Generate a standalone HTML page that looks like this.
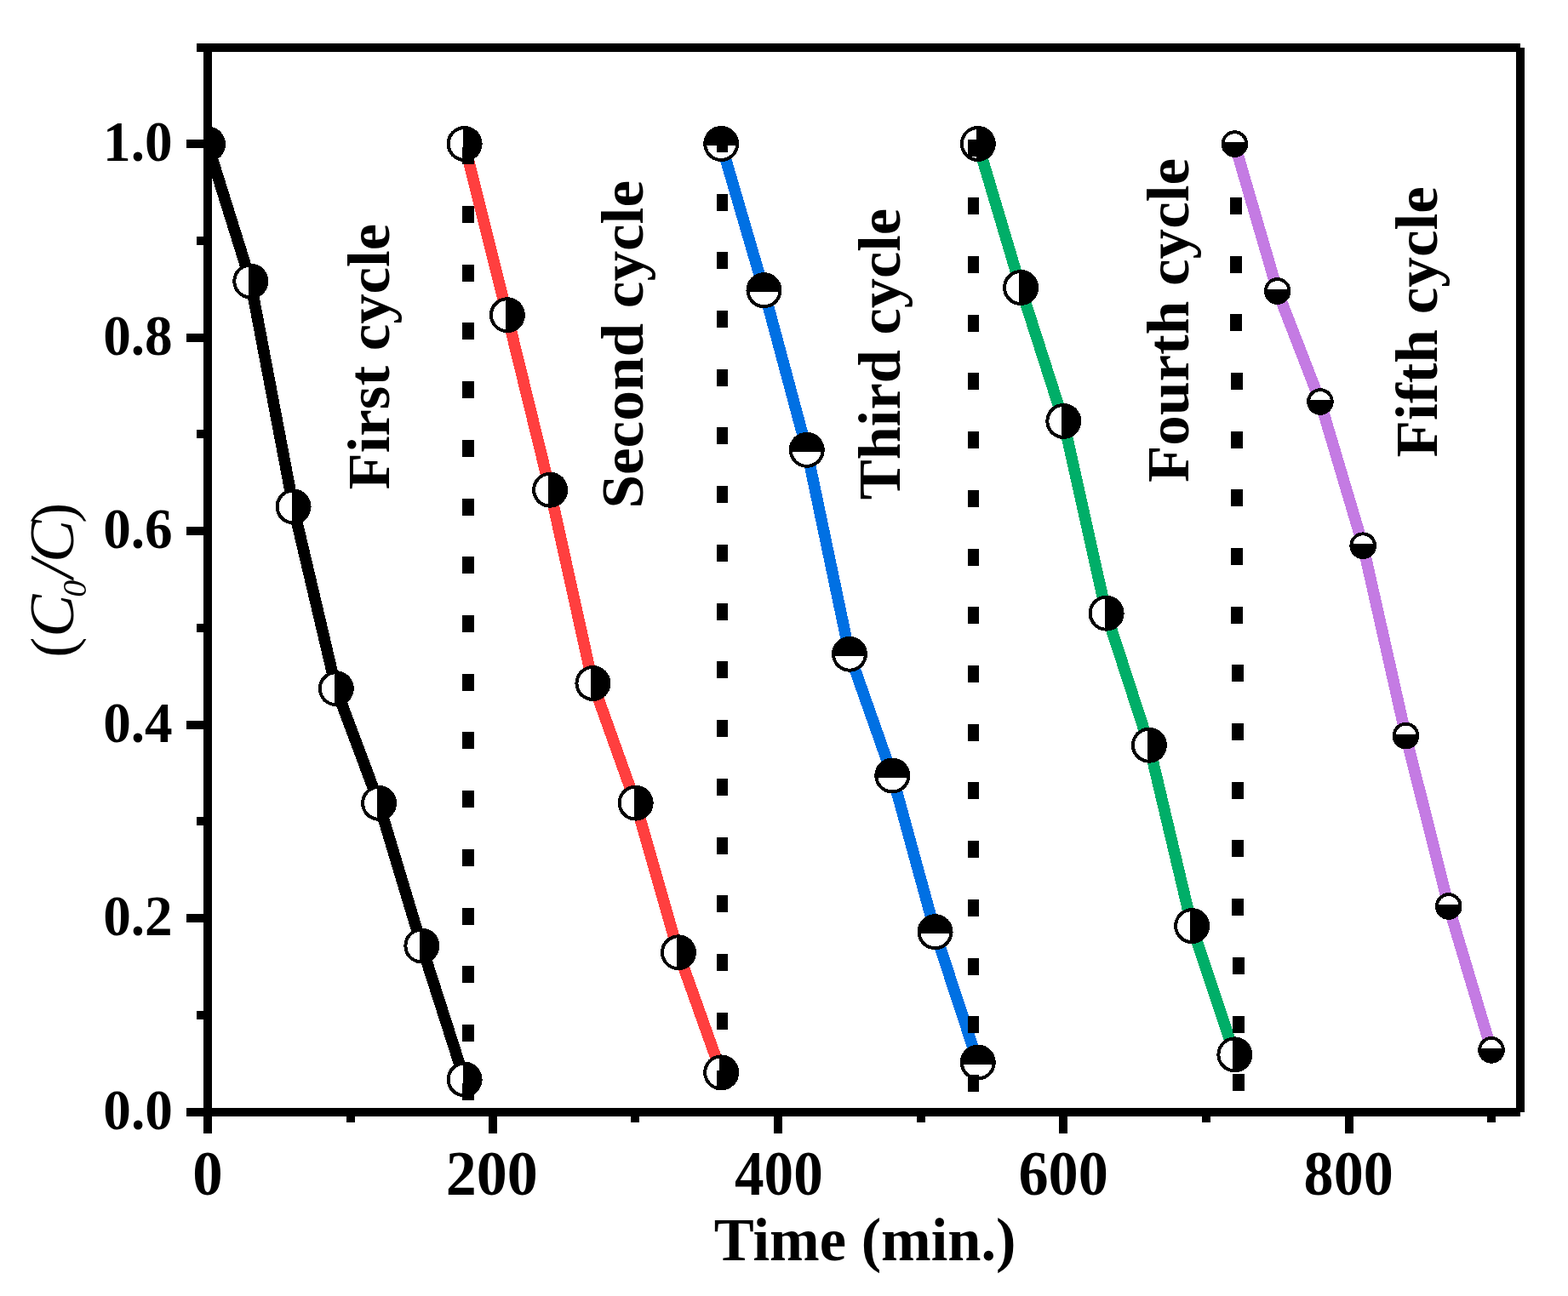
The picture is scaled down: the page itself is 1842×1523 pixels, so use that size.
<!DOCTYPE html>
<html lang="en">
<head>
<meta charset="utf-8">
<title>Recycling test: C0/C versus time over five cycles</title>
<style>
html,body{margin:0;padding:0;background:#fff;}
body{width:1842px;height:1523px;overflow:hidden;}
svg{display:block;}
text{font-family:"Liberation Serif", "DejaVu Serif", serif;fill:#000;}
.b{font-weight:bold;}
.it{font-style:italic;font-weight:normal;}
</style>
</head>
<body>
<svg width="1842" height="1523" viewBox="0 0 1842 1523">
<rect width="1842" height="1523" fill="#fff"/>
<defs><clipPath id="plot"><rect x="244" y="56" width="1542" height="1251"/></clipPath></defs>

<g clip-path="url(#plot)" shape-rendering="crispEdges">
<polyline points="244.00,169.50 294.27,330.50 344.53,595.40 394.80,809.20 445.07,943.80 495.33,1111.50 545.60,1268.50" fill="none" stroke="#000000" stroke-width="13.6" stroke-linejoin="round"/>
<circle cx="244.00" cy="169.50" r="21" fill="#000"/><path d="M242.00 152.62A17 17 0 0 0 242.00 186.38Z" fill="#fff"/>
<circle cx="294.27" cy="330.50" r="21" fill="#000"/><path d="M292.27 313.62A17 17 0 0 0 292.27 347.38Z" fill="#fff"/>
<circle cx="344.53" cy="595.40" r="21" fill="#000"/><path d="M342.53 578.52A17 17 0 0 0 342.53 612.28Z" fill="#fff"/>
<circle cx="394.80" cy="809.20" r="21" fill="#000"/><path d="M392.80 792.32A17 17 0 0 0 392.80 826.08Z" fill="#fff"/>
<circle cx="445.07" cy="943.80" r="21" fill="#000"/><path d="M443.07 926.92A17 17 0 0 0 443.07 960.68Z" fill="#fff"/>
<circle cx="495.33" cy="1111.50" r="21" fill="#000"/><path d="M493.33 1094.62A17 17 0 0 0 493.33 1128.38Z" fill="#fff"/>
<circle cx="545.60" cy="1268.50" r="21" fill="#000"/><path d="M543.60 1251.62A17 17 0 0 0 543.60 1285.38Z" fill="#fff"/>
<polyline points="545.60,169.00 595.87,370.20 646.13,575.70 696.40,803.00 746.67,943.60 796.93,1119.30 847.20,1260.40" fill="none" stroke="#ff3f3f" stroke-width="13.6" stroke-linejoin="round"/>
<circle cx="545.60" cy="169.00" r="21" fill="#000"/><path d="M543.60 152.12A17 17 0 0 0 543.60 185.88Z" fill="#fff"/>
<circle cx="595.87" cy="370.20" r="21" fill="#000"/><path d="M593.87 353.32A17 17 0 0 0 593.87 387.08Z" fill="#fff"/>
<circle cx="646.13" cy="575.70" r="21" fill="#000"/><path d="M644.13 558.82A17 17 0 0 0 644.13 592.58Z" fill="#fff"/>
<circle cx="696.40" cy="803.00" r="21" fill="#000"/><path d="M694.40 786.12A17 17 0 0 0 694.40 819.88Z" fill="#fff"/>
<circle cx="746.67" cy="943.60" r="21" fill="#000"/><path d="M744.67 926.72A17 17 0 0 0 744.67 960.48Z" fill="#fff"/>
<circle cx="796.93" cy="1119.30" r="21" fill="#000"/><path d="M794.93 1102.42A17 17 0 0 0 794.93 1136.18Z" fill="#fff"/>
<circle cx="847.20" cy="1260.40" r="21" fill="#000"/><path d="M845.20 1243.52A17 17 0 0 0 845.20 1277.28Z" fill="#fff"/>
<polyline points="847.20,169.00 897.47,341.20 947.74,528.80 998.00,768.70 1048.27,911.50 1098.54,1095.20 1148.80,1248.50" fill="none" stroke="#0070e3" stroke-width="13.6" stroke-linejoin="round"/>
<circle cx="847.20" cy="169.00" r="21" fill="#000"/><path d="M830.32 171.00A17 17 0 0 0 864.08 171.00Z" fill="#fff"/>
<circle cx="897.47" cy="341.20" r="21" fill="#000"/><path d="M880.59 343.20A17 17 0 0 0 914.35 343.20Z" fill="#fff"/>
<circle cx="947.74" cy="528.80" r="21" fill="#000"/><path d="M930.85 530.80A17 17 0 0 0 964.62 530.80Z" fill="#fff"/>
<circle cx="998.00" cy="768.70" r="21" fill="#000"/><path d="M981.12 770.70A17 17 0 0 0 1014.88 770.70Z" fill="#fff"/>
<circle cx="1048.27" cy="911.50" r="21" fill="#000"/><path d="M1031.39 913.50A17 17 0 0 0 1065.15 913.50Z" fill="#fff"/>
<circle cx="1098.54" cy="1095.20" r="21" fill="#000"/><path d="M1081.65 1097.20A17 17 0 0 0 1115.42 1097.20Z" fill="#fff"/>
<circle cx="1148.80" cy="1248.50" r="21" fill="#000"/><path d="M1131.92 1250.50A17 17 0 0 0 1165.68 1250.50Z" fill="#fff"/>
<polyline points="1148.80,169.00 1199.07,338.00 1249.34,494.90 1299.60,720.70 1349.87,875.70 1400.14,1088.10 1450.40,1239.40" fill="none" stroke="#00ae68" stroke-width="13.6" stroke-linejoin="round"/>
<circle cx="1148.80" cy="169.00" r="21" fill="#000"/><path d="M1146.80 152.12A17 17 0 0 0 1146.80 185.88Z" fill="#fff"/>
<circle cx="1199.07" cy="338.00" r="21" fill="#000"/><path d="M1197.07 321.12A17 17 0 0 0 1197.07 354.88Z" fill="#fff"/>
<circle cx="1249.34" cy="494.90" r="21" fill="#000"/><path d="M1247.34 478.02A17 17 0 0 0 1247.34 511.78Z" fill="#fff"/>
<circle cx="1299.60" cy="720.70" r="21" fill="#000"/><path d="M1297.60 703.82A17 17 0 0 0 1297.60 737.58Z" fill="#fff"/>
<circle cx="1349.87" cy="875.70" r="21" fill="#000"/><path d="M1347.87 858.82A17 17 0 0 0 1347.87 892.58Z" fill="#fff"/>
<circle cx="1400.14" cy="1088.10" r="21" fill="#000"/><path d="M1398.14 1071.22A17 17 0 0 0 1398.14 1104.98Z" fill="#fff"/>
<circle cx="1450.40" cy="1239.40" r="21" fill="#000"/><path d="M1448.40 1222.52A17 17 0 0 0 1448.40 1256.28Z" fill="#fff"/>
<polyline points="1450.40,169.10 1500.67,342.00 1550.94,472.00 1601.20,641.20 1651.47,864.60 1701.74,1065.00 1752.00,1233.90" fill="none" stroke="#c47be3" stroke-width="13.6" stroke-linejoin="round"/>
<circle cx="1450.40" cy="169.10" r="15.8" fill="#000"/><path d="M1438.57 167.10A12 12 0 0 1 1462.24 167.10Z" fill="#fff"/>
<circle cx="1500.67" cy="342.00" r="15.8" fill="#000"/><path d="M1488.84 340.00A12 12 0 0 1 1512.50 340.00Z" fill="#fff"/>
<circle cx="1550.94" cy="472.00" r="15.8" fill="#000"/><path d="M1539.10 470.00A12 12 0 0 1 1562.77 470.00Z" fill="#fff"/>
<circle cx="1601.20" cy="641.20" r="15.8" fill="#000"/><path d="M1589.37 639.20A12 12 0 0 1 1613.04 639.20Z" fill="#fff"/>
<circle cx="1651.47" cy="864.60" r="15.8" fill="#000"/><path d="M1639.64 862.60A12 12 0 0 1 1663.30 862.60Z" fill="#fff"/>
<circle cx="1701.74" cy="1065.00" r="15.8" fill="#000"/><path d="M1689.91 1063.00A12 12 0 0 1 1713.57 1063.00Z" fill="#fff"/>
<circle cx="1752.00" cy="1233.90" r="15.8" fill="#000"/><path d="M1740.17 1231.90A12 12 0 0 1 1763.84 1231.90Z" fill="#fff"/>
</g>
<g fill="#000" shape-rendering="crispEdges">
<rect x="543" y="173" width="14" height="20"/>
<rect x="543" y="242" width="14" height="20"/>
<rect x="543" y="311" width="14" height="20"/>
<rect x="543" y="379" width="14" height="20"/>
<rect x="543" y="448" width="14" height="20"/>
<rect x="543" y="517" width="14" height="20"/>
<rect x="543" y="586" width="14" height="20"/>
<rect x="543" y="654" width="14" height="20"/>
<rect x="543" y="723" width="14" height="20"/>
<rect x="543" y="792" width="14" height="20"/>
<rect x="543" y="860" width="14" height="20"/>
<rect x="543" y="929" width="14" height="20"/>
<rect x="543" y="998" width="14" height="20"/>
<rect x="543" y="1067" width="14" height="20"/>
<rect x="543" y="1135" width="14" height="20"/>
<rect x="543" y="1204" width="14" height="20"/>
<rect x="543" y="1273" width="14" height="20"/>
<rect x="842" y="159" width="13" height="20"/>
<rect x="842" y="228" width="13" height="20"/>
<rect x="842" y="296" width="13" height="20"/>
<rect x="842" y="365" width="13" height="20"/>
<rect x="842" y="434" width="13" height="20"/>
<rect x="842" y="502" width="13" height="20"/>
<rect x="842" y="571" width="13" height="20"/>
<rect x="842" y="640" width="13" height="20"/>
<rect x="842" y="709" width="13" height="20"/>
<rect x="842" y="777" width="13" height="20"/>
<rect x="842" y="846" width="13" height="20"/>
<rect x="842" y="915" width="13" height="20"/>
<rect x="842" y="984" width="13" height="20"/>
<rect x="842" y="1052" width="13" height="20"/>
<rect x="842" y="1121" width="13" height="20"/>
<rect x="842" y="1190" width="13" height="20"/>
<rect x="842" y="1258" width="13" height="20"/>
<rect x="1137" y="164" width="13" height="20"/>
<rect x="1137" y="232" width="13" height="20"/>
<rect x="1137" y="301" width="13" height="20"/>
<rect x="1137" y="370" width="13" height="20"/>
<rect x="1137" y="438" width="13" height="20"/>
<rect x="1137" y="507" width="13" height="20"/>
<rect x="1137" y="576" width="13" height="20"/>
<rect x="1137" y="645" width="13" height="20"/>
<rect x="1137" y="713" width="13" height="20"/>
<rect x="1137" y="782" width="13" height="20"/>
<rect x="1137" y="851" width="13" height="20"/>
<rect x="1137" y="919" width="13" height="20"/>
<rect x="1137" y="988" width="13" height="20"/>
<rect x="1137" y="1057" width="13" height="20"/>
<rect x="1137" y="1126" width="13" height="20"/>
<rect x="1137" y="1194" width="13" height="20"/>
<rect x="1137" y="1263" width="13" height="20"/>
<rect x="1445" y="232" width="14" height="20"/>
<rect x="1445" y="301" width="14" height="20"/>
<rect x="1445" y="369" width="14" height="20"/>
<rect x="1446" y="438" width="14" height="20"/>
<rect x="1446" y="507" width="14" height="20"/>
<rect x="1446" y="575" width="14" height="20"/>
<rect x="1446" y="644" width="14" height="20"/>
<rect x="1446" y="713" width="14" height="20"/>
<rect x="1447" y="781" width="14" height="20"/>
<rect x="1447" y="850" width="14" height="20"/>
<rect x="1447" y="919" width="14" height="20"/>
<rect x="1447" y="987" width="14" height="20"/>
<rect x="1447" y="1056" width="14" height="20"/>
<rect x="1448" y="1125" width="14" height="20"/>
<rect x="1448" y="1194" width="14" height="20"/>
<rect x="1448" y="1262" width="14" height="20"/>
</g>
<g fill="#000" shape-rendering="crispEdges">
<rect x="239" y="51" width="10" height="1281"/>
<rect x="231" y="51" width="1555" height="10"/>
<rect x="1781" y="56" width="10" height="1251"/>
<rect x="219" y="1302" width="1567" height="10"/>
<rect x="219" y="1074" width="25" height="10"/>
<rect x="219" y="847" width="25" height="10"/>
<rect x="219" y="619" width="25" height="10"/>
<rect x="219" y="392" width="25" height="10"/>
<rect x="219" y="164" width="25" height="10"/>
<rect x="231" y="1188" width="13" height="10"/>
<rect x="231" y="960" width="13" height="10"/>
<rect x="231" y="733" width="13" height="10"/>
<rect x="231" y="505" width="13" height="10"/>
<rect x="231" y="278" width="13" height="10"/>
<rect x="574" y="1307" width="10" height="25"/>
<rect x="909" y="1307" width="10" height="25"/>
<rect x="1244" y="1307" width="10" height="25"/>
<rect x="1580" y="1307" width="10" height="25"/>
<rect x="407" y="1307" width="10" height="12"/>
<rect x="741" y="1307" width="10" height="12"/>
<rect x="1077" y="1307" width="10" height="12"/>
<rect x="1412" y="1307" width="10" height="12"/>
<rect x="1747" y="1307" width="10" height="12"/>
</g>
<g id="ytick-labels">
<text class="b" font-size="65" transform="translate(121.3 1327.1) scale(1.003 1.027)">0.0</text>
<text class="b" font-size="65" transform="translate(121.2 1098.95) scale(1.003 1.027)">0.2</text>
<text class="b" font-size="65" transform="translate(121.2 872.1) scale(1.003 1.027)">0.4</text>
<text class="b" font-size="65" transform="translate(121.2 644.0) scale(1.003 1.027)">0.6</text>
<text class="b" font-size="65" transform="translate(121.2 417.1) scale(1.003 1.027)">0.8</text>
<text class="b" font-size="65" transform="translate(121.1 189.2) scale(1.003 1.027)">1.0</text>
</g>
<g id="xtick-labels">
<text class="b" font-size="71" transform="translate(226.2 1404.35) scale(0.997 1.048)">0</text>
<text class="b" font-size="71" transform="translate(523.7 1404.2) scale(1.014 1.048)">200</text>
<text class="b" font-size="71" transform="translate(862.95 1404.35) scale(0.975 1.048)">400</text>
<text class="b" font-size="71" transform="translate(1196.45 1404.35) scale(0.989 1.048)">600</text>
<text class="b" font-size="71" transform="translate(1531.6 1404.35) scale(0.987 1.048)">800</text>
</g>
<text class="b" font-size="71" transform="translate(838.85 1481.0) scale(0.992 1)">Time (min.)</text>
<text id="ytitle" transform="translate(85.7 770.0) rotate(-90)" font-size="75"><tspan x="-2.8" y="0" font-size="72">(</tspan><tspan class="it" x="21.25" y="0">C</tspan><tspan class="it" x="68.2" y="14.8" font-size="40">0</tspan><tspan class="it" x="90.85" y="0">/</tspan><tspan class="it" x="108.95" y="0">C</tspan><tspan x="155.15" y="0" font-size="72">)</tspan></text>
<g id="cycle-labels">
<text class="b" font-size="71" transform="translate(456.9 575.6) rotate(-90) scale(0.998 0.988)">First cycle</text>
<text class="b" font-size="71" transform="translate(754.9 597.6) rotate(-90) scale(1.003 0.988)">Second cycle</text>
<text class="b" font-size="71" transform="translate(1056.9 587.3) rotate(-90) scale(0.992 0.988)">Third cycle</text>
<text class="b" font-size="71" transform="translate(1396.1 567.1) rotate(-90) scale(1.002 0.988)">Fourth cycle</text>
<text class="b" font-size="71" transform="translate(1688.0 537.4) rotate(-90) scale(1.003 0.982)">Fifth cycle</text>
</g>
</svg>
</body>
</html>
